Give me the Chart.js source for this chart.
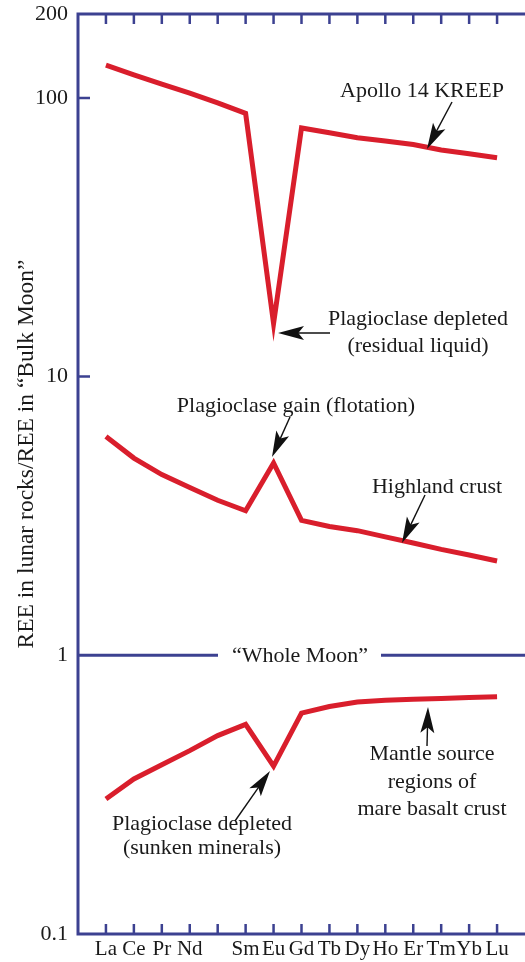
<!DOCTYPE html>
<html>
<head>
<meta charset="utf-8">
<script src="https://cdn.jsdelivr.net/npm/chart.js@4.4.0/dist/chart.umd.min.js"></script>
<style>
  body { margin: 0; background: #fff; }
  #wrap { width: 525px; height: 962px; }
</style>
</head>
<body>
<div id="wrap"><canvas id="ree-chart" width="525" height="962"></canvas></div>
<script>
// REE pattern data (normalised to "Bulk Moon")
var elements = ["La","Ce","Pr","Nd","Pm","Sm","Eu","Gd","Tb","Dy","Ho","Er","Tm","Yb","Lu"];
var axisLabels = ["La","Ce","Pr","Nd","","Sm","Eu","Gd","Tb","Dy","Ho","Er","Tm","Yb","Lu"];

var kreep    = [131, 121, 112, 104, 96, 88, 15.5, 78, 75, 72, 70, 68, 65, 63, 61];
var highland = [6.1, 5.1, 4.45, 4.0, 3.6, 3.3, 4.9, 3.05, 2.9, 2.8, 2.66, 2.53, 2.4, 2.29, 2.18];
var mantle   = [0.305, 0.36, 0.405, 0.455, 0.515, 0.565, 0.40, 0.62, 0.655, 0.68, 0.69, 0.695, 0.70, 0.705, 0.71];

var yTicks = [0.1, 1, 10, 100, 200];
var yTitle = 'REE in lunar rocks/REE in \u201cBulk Moon\u201d';

var FRAME = '#3c4191';
var RED = '#d91e2c';
var SERIF = '"Liberation Serif", "DejaVu Serif", serif';

// text notes + arrows (pixel layout)
var notes = [
  {lines: ["Apollo 14 KREEP"], x: 422, y: 97, lh: 27},
  {lines: ["Plagioclase depleted", "(residual liquid)"], x: 418, y: 325, lh: 27},
  {lines: ["Plagioclase gain (flotation)"], x: 296, y: 412, lh: 27},
  {lines: ["Highland crust"], x: 437, y: 493, lh: 27},
  {lines: ["Mantle source", "regions of", "mare basalt crust"], x: 432, y: 760, lh: 27.5},
  {lines: ["Plagioclase depleted", "(sunken minerals)"], x: 202, y: 830, lh: 24}
];
var arrows = [
  {from: [452, 102], to: [427, 149]},
  {from: [330, 333], to: [278, 333]},
  {from: [290, 417], to: [272, 457]},
  {from: [425, 495], to: [402, 543]},
  {from: [427, 746], to: [428, 707]},
  {from: [235, 821], to: [270, 771]}
];

function toPoints(arr) {
  return arr.map(function(v, i){ return {x: i + 1, y: v}; });
}

function drawArrow(ctx, a) {
  var x1 = a.from[0], y1 = a.from[1], x2 = a.to[0], y2 = a.to[1];
  var ang = Math.atan2(y2 - y1, x2 - x1);
  var d = Math.hypot(x2 - x1, y2 - y1);
  var len = 26, half = 7;
  ctx.save();
  ctx.translate(x2, y2);
  ctx.rotate(ang);
  ctx.strokeStyle = '#111';
  ctx.fillStyle = '#111';
  ctx.lineWidth = 1.4;
  ctx.beginPath(); ctx.moveTo(-d, 0); ctx.lineTo(-len * 0.7, 0); ctx.stroke();
  ctx.beginPath();
  ctx.moveTo(0, 0);
  ctx.lineTo(-len, -half);
  ctx.lineTo(-len * 0.78, 0);
  ctx.lineTo(-len, half);
  ctx.closePath();
  ctx.fill();
  ctx.restore();
}

var framePlugin = {
  id: 'frame',
  beforeDatasetsDraw: function(chart) {
    var ctx = chart.ctx, a = chart.chartArea;
    var xs = chart.scales.x, ys = chart.scales.y;
    ctx.save();
    ctx.strokeStyle = FRAME;
    ctx.lineWidth = 3;
    ctx.beginPath();
    ctx.moveTo(chart.width + 2, a.top); ctx.lineTo(a.left, a.top);
    ctx.lineTo(a.left, a.bottom); ctx.lineTo(chart.width + 2, a.bottom);
    ctx.stroke();
    // inward ticks top & bottom
    ctx.lineWidth = 2.5;
    ctx.beginPath();
    for (var i = 1; i <= elements.length; i++) {
      var px = xs.getPixelForValue(i);
      ctx.moveTo(px, a.top); ctx.lineTo(px, a.top + 10);
      ctx.moveTo(px, a.bottom); ctx.lineTo(px, a.bottom - 10);
    }
    // left ticks
    [10, 100].forEach(function(v){
      var py = ys.getPixelForValue(v);
      ctx.moveTo(a.left, py); ctx.lineTo(a.left + 12, py);
    });
    ctx.stroke();
    // "Whole Moon" reference line at 1
    var y1 = ys.getPixelForValue(1);
    ctx.lineWidth = 3;
    ctx.beginPath();
    ctx.moveTo(a.left, y1); ctx.lineTo(218, y1);
    ctx.moveTo(381, y1); ctx.lineTo(chart.width + 2, y1);
    ctx.stroke();
    ctx.fillStyle = '#1a1a1a';
    ctx.font = '22px ' + SERIF;
    ctx.textAlign = 'center';
    ctx.textBaseline = 'alphabetic';
    ctx.fillText('\u201cWhole Moon\u201d', 300, y1 + 7);
    ctx.restore();
  },
  afterDraw: function(chart) {
    var ctx = chart.ctx;
    ctx.save();
    ctx.fillStyle = '#1a1a1a';
    ctx.font = '22px ' + SERIF;
    ctx.textAlign = 'center';
    ctx.textBaseline = 'alphabetic';
    notes.forEach(function(n){
      n.lines.forEach(function(t, k){ ctx.fillText(t, n.x, n.y + k * n.lh); });
    });
    arrows.forEach(function(a){ drawArrow(ctx, a); });
    // y axis title
    ctx.save();
    ctx.translate(33, 454);
    ctx.rotate(-Math.PI / 2);
    ctx.font = '23.5px ' + SERIF;
    ctx.fillText(yTitle, 0, 0);
    ctx.restore();
    ctx.restore();
  }
};

var ctx = document.getElementById('ree-chart');
var series = [kreep, highland, mantle];
var myChart = new Chart(ctx, {
  type: 'line',
  data: {
    datasets: series.map(function(s){
      return {
        data: toPoints(s),
        borderColor: RED,
        borderWidth: 5,
        pointRadius: 0,
        tension: 0,
        fill: false
      };
    })
  },
  options: {
    responsive: false,
    animation: false,
    devicePixelRatio: 1,
    layout: { padding: { top: 14, left: 0, right: 0, bottom: 0 } },
    plugins: { legend: { display: false }, tooltip: { enabled: false } },
    scales: {
      x: {
        type: 'linear',
        min: 0,
        max: 16,
        grid: { display: false, drawTicks: false },
        border: { display: false },
        afterFit: function(s){ s.height = 28; s.paddingLeft = 0; s.paddingRight = 0; },
        afterBuildTicks: function(s){
          s.ticks = elements.map(function(e, i){ return {value: i + 1}; });
        },
        ticks: {
          autoSkip: false,
          maxRotation: 0,
          padding: 3,
          color: '#1a1a1a',
          font: { family: SERIF, size: 21 },
          callback: function(v){ return axisLabels[v - 1] || ''; }
        }
      },
      y: {
        type: 'logarithmic',
        min: 0.1,
        max: 200,
        grid: { display: false, drawTicks: false },
        border: { display: false },
        afterFit: function(s){ s.width = 78; s.paddingTop = 0; s.paddingBottom = 0; },
        afterBuildTicks: function(s){
          s.ticks = yTicks.map(function(v){ return {value: v}; });
        },
        ticks: {
          padding: 10,
          color: '#1a1a1a',
          font: { family: SERIF, size: 22 },
          callback: function(v){ return String(v); }
        }
      }
    }
  },
  plugins: [framePlugin]
});
</script>
</body>
</html>
